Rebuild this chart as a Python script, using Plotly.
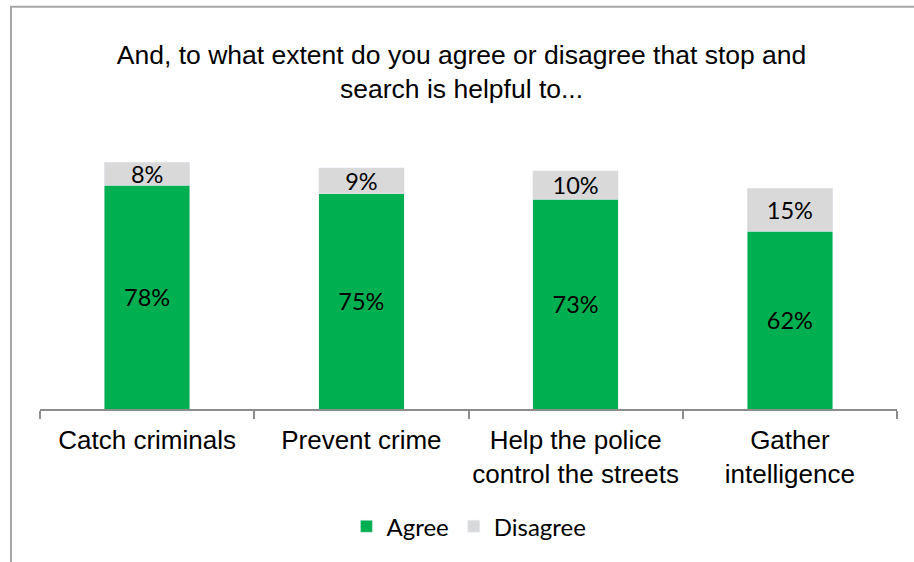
import plotly.graph_objects as go

# Survey results: share agreeing / disagreeing, per statement
categories = ["Catch criminals", "Prevent crime",
              "Help the police<br>control the streets", "Gather<br>intelligence"]
agree = [78, 75, 73, 62]
disagree = [8, 9, 10, 15]

GREEN = "#00B050"
GREY = "#D9D9D9"
LABEL_FONT = dict(family="Lato, Calibri, sans-serif", size=23.5, color="black")

fig = go.Figure()
fig.add_trace(go.Bar(
    name="Agree", x=categories, y=agree, marker_color=GREEN,
    text=[f"{v}%" for v in agree], textposition="inside",
    insidetextanchor="middle", textfont=LABEL_FONT, constraintext="none",
    hoverinfo="skip",
))
fig.add_trace(go.Bar(
    name="Disagree", x=categories, y=disagree, marker_color=GREY,
    text=[f"{v}%" for v in disagree], textposition="inside",
    insidetextanchor="middle", textfont=LABEL_FONT, constraintext="none",
    hoverinfo="skip",
))

fig.update_layout(
    width=914, height=562, autosize=False,
    margin=dict(l=40, r=17, t=121.5, b=153),
    barmode="stack", bargap=0.6,
    plot_bgcolor="white", paper_bgcolor="white",
    title=dict(
        text="And, to what extent do you agree or disagree that stop and<br>search is helpful to...",
        x=0.505, xref="container", xanchor="center",
        y=1 - 64 / 562, yref="container", yanchor="top",
        font=dict(family="Liberation Sans, Arial, sans-serif", size=26.5, color="black"),
        automargin=False,
    ),
    xaxis=dict(
        type="category", showline=True, linecolor="#8C8C8C", linewidth=1.5,
        ticks="outside", tickson="boundaries", ticklen=8, tickcolor="#8C8C8C",
        tickwidth=1.5, showgrid=False, ticklabelstandoff=7, tickangle=0,
        automargin=False,
        tickfont=dict(family="Liberation Sans, Arial, sans-serif", size=26, color="black"),
    ),
    yaxis=dict(range=[0, 100], visible=False, showgrid=False, automargin=False),
    showlegend=True,
    legend=dict(
        orientation="h", x=0.5005, xanchor="center", y=-0.41, yanchor="middle",
        font=dict(family="Lato, Calibri, sans-serif", size=24, color="black"),
        traceorder="normal", itemclick=False,
    ),
    shapes=[dict(
        type="rect", xref="paper", yref="paper",
        x0=(11 - 40) / 857, x1=1.2, y0=-1.0, y1=(409 - 6) / 287.5,
        line=dict(color="#A6A6A6", width=2), fillcolor="rgba(0,0,0,0)",
        layer="below",
    )],
)

fig.write_html("out.html")
